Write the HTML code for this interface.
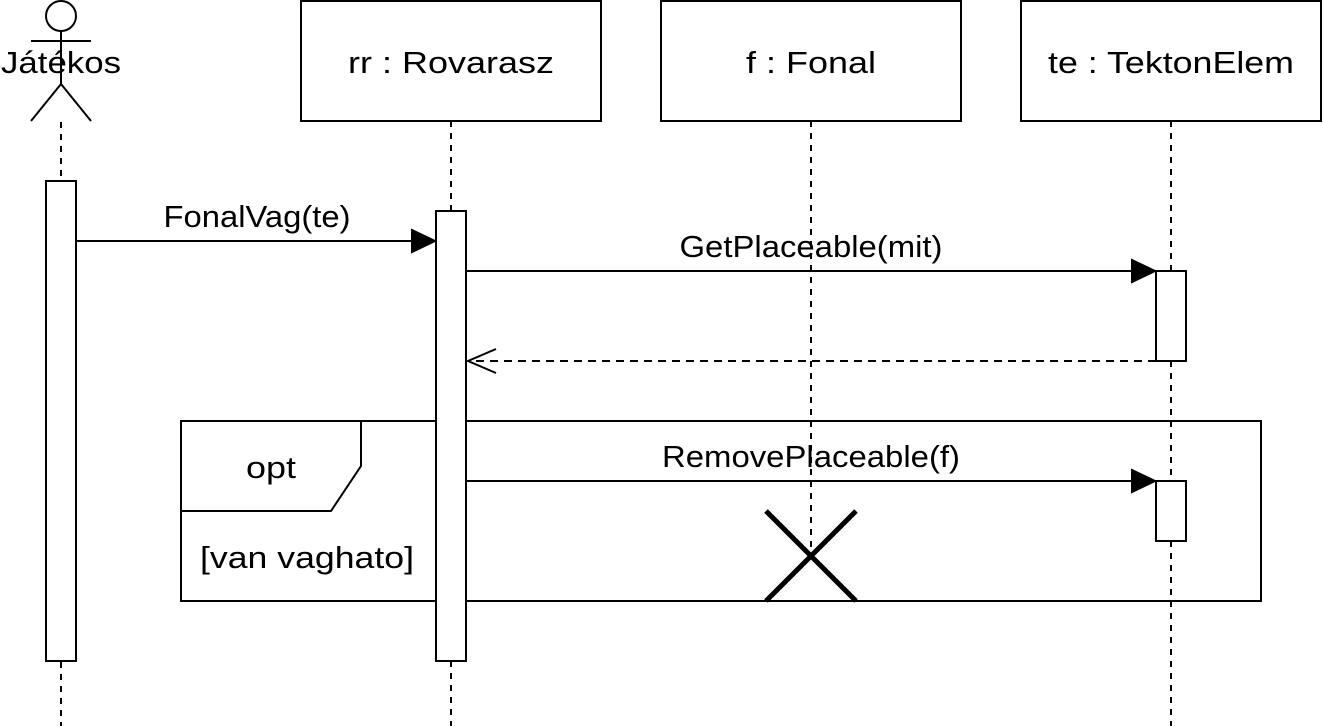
<!DOCTYPE html>
<html><head><meta charset="utf-8"><style>html,body{margin:0;padding:0;background:#fff}svg{display:block}</style></head>
<body>
<svg width="1323" height="726" viewBox="0 0 1323 726" xmlns="http://www.w3.org/2000/svg" font-family="Liberation Sans, Arial, sans-serif" font-size="31">
<g fill="none" stroke="#000" stroke-width="2">
<!-- lifelines -->
<line x1="61" y1="122" x2="61" y2="726" stroke-dasharray="6,6"/>
<line x1="451" y1="121" x2="451" y2="726" stroke-dasharray="6,6"/>
<line x1="811" y1="121" x2="811" y2="556" stroke-dasharray="6,6"/>
<line x1="1171" y1="121" x2="1171" y2="726" stroke-dasharray="6,6"/>
<!-- actor -->
<circle cx="61" cy="16" r="15"/>
<line x1="61" y1="31" x2="61" y2="84"/>
<line x1="31" y1="41" x2="91" y2="41"/>
<line x1="61" y1="84" x2="31" y2="121"/>
<line x1="61" y1="84" x2="91" y2="121"/>
<!-- boxes -->
<rect x="301" y="1" width="300" height="120" fill="#fff"/>
<rect x="661" y="1" width="300" height="120" fill="#fff"/>
<rect x="1021" y="1" width="300" height="120" fill="#fff"/>
<!-- opt frame -->
<rect x="181" y="421" width="1080" height="180"/>
<path d="M181,421 L361,421 L361,466 L331,511 L181,511"/>
<!-- activations -->
<rect x="46" y="181" width="30" height="480" fill="#fff"/>
<rect x="436" y="211" width="30" height="450" fill="#fff"/>
<rect x="1156" y="271" width="30" height="90" fill="#fff"/>
<rect x="1156" y="481" width="30" height="60" fill="#fff"/>
<!-- messages -->
<line x1="76" y1="241" x2="414" y2="241"/>
<line x1="466" y1="271" x2="1134" y2="271"/>
<line x1="1156" y1="361" x2="468" y2="361" stroke-dasharray="8,6"/>
<path d="M496,349 L468,361 L496,373"/>
<line x1="466" y1="481" x2="1134" y2="481"/>
<!-- destroy -->
<line x1="766" y1="511" x2="856" y2="601" stroke-width="5"/>
<line x1="856" y1="511" x2="766" y2="601" stroke-width="5"/>
</g>
<g fill="#000" stroke="#000" stroke-width="2">
<path d="M412,230 L435,241 L412,252 Z"/>
<path d="M1132,260 L1155,271 L1132,282 Z"/>
<path d="M1132,470 L1155,481 L1132,492 Z"/>
</g>
<g fill="#000" text-anchor="middle">
<text x="61" y="73" textLength="120" lengthAdjust="spacingAndGlyphs">Játékos</text>
<text x="451" y="73" textLength="206" lengthAdjust="spacingAndGlyphs">rr : Rovarasz</text>
<text x="811" y="73" textLength="130" lengthAdjust="spacingAndGlyphs">f : Fonal</text>
<text x="1171" y="73" textLength="246" lengthAdjust="spacingAndGlyphs">te : TektonElem</text>
<text x="257" y="227" textLength="187" lengthAdjust="spacingAndGlyphs">FonalVag(te)</text>
<text x="811" y="257" textLength="263" lengthAdjust="spacingAndGlyphs">GetPlaceable(mit)</text>
<text x="811" y="467" textLength="298" lengthAdjust="spacingAndGlyphs">RemovePlaceable(f)</text>
<text x="271" y="478" textLength="50" lengthAdjust="spacingAndGlyphs">opt</text>
<text x="307" y="568" textLength="214" lengthAdjust="spacingAndGlyphs">[van vaghato]</text>
</g>
</svg>
</body></html>
